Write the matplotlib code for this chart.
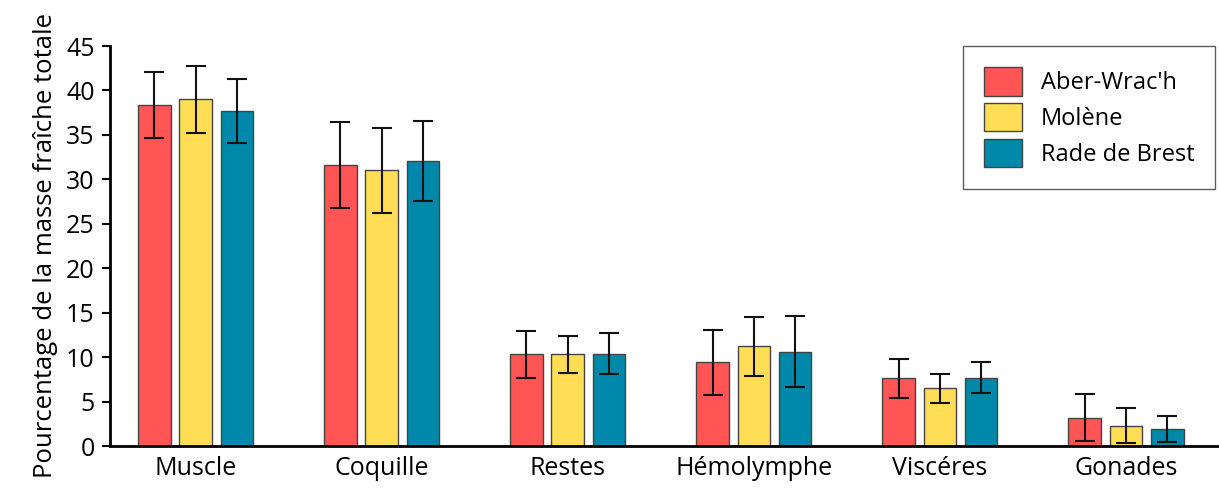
import matplotlib.pyplot as plt
import numpy as np

plt.rcParams["font.family"] = ["Open Sans", "DejaVu Sans"]

categories = ["Muscle", "Coquille", "Restes", "Hémolymphe", "Viscéres", "Gonades"]
series = ["Aber-Wrac'h", "Molène", "Rade de Brest"]
colors = ["#FF5555", "#FFDD55", "#0088AA"]

aber = [38.4, 31.6, 10.3, 9.4, 7.6, 3.2]
molene = [39.0, 31.0, 10.3, 11.2, 6.5, 2.3]
brest = [37.7, 32.1, 10.4, 10.6, 7.7, 1.9]

aber_err = [3.7, 4.8, 2.6, 3.7, 2.2, 2.6]
molene_err = [3.8, 4.8, 2.1, 3.3, 1.65, 1.95]
brest_err = [3.6, 4.5, 2.3, 4.0, 1.75, 1.45]

values = [aber, molene, brest]
errors = [aber_err, molene_err, brest_err]

fig = plt.figure(figsize=(12.19, 4.92), dpi=100)
ax = fig.add_axes([110 / 1219, 1 - 446 / 492, 1 - 110 / 1219, 400 / 492])

x = np.arange(len(categories))
width = 0.175
offset = 0.222
for i, (vals, errs, name, col) in enumerate(zip(values, errors, series, colors)):
    ax.bar(x + (i - 1) * offset, vals, width, yerr=errs, color=col,
           edgecolor="#444444", linewidth=1, label=name,
           error_kw=dict(ecolor="#111111", elinewidth=1.5, capsize=7, capthick=1.5))

ax.set_xlim(-0.46, 5.5)
ax.set_ylim(0, 45)
ax.set_yticks(range(0, 46, 5))
ax.set_xticks(x)
ax.set_xticklabels(categories, fontsize=18)
ax.tick_params(axis="x", length=0, pad=7)
ax.tick_params(axis="y", labelsize=18, width=1.5, length=6, pad=5)
ax.set_ylabel("Pourcentage de la masse fraîche totale", fontsize=18.5, labelpad=6)
for side in ["top", "right"]:
    ax.spines[side].set_visible(False)
for side in ["left", "bottom"]:
    ax.spines[side].set_linewidth(2)

leg = ax.legend(loc="upper right", bbox_to_anchor=(1.0, 1.01), fontsize=17,
                fancybox=False, edgecolor="#333333", borderpad=0.9,
                borderaxespad=0.15, handlelength=1.6, handleheight=1.5,
                labelspacing=0.3, handletextpad=0.8)
leg.get_frame().set_linewidth(1)

fig.savefig("out.png", dpi=100)
